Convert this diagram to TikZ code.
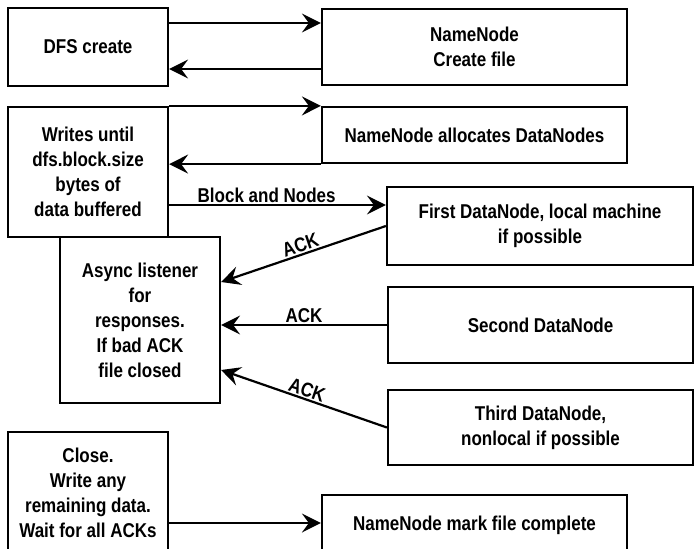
\documentclass[tikz,border=0pt]{standalone}
\usepackage{fontspec}
\setmainfont{Liberation Sans}[FakeStretch=0.85]
\usetikzlibrary{arrows.meta}

\begin{document}
\begin{tikzpicture}[x=1pt,y=-1pt,line width=2.2pt,
    txt/.style={font=\bfseries\fontsize{20}{25}\selectfont},
    procbox/.style={draw,txt,align=center,inner sep=2pt},
    lbl/.style={txt,inner sep=1.5pt,text depth=0pt},
    flow/.style={-{Stealth[length=19pt,width=19pt,inset=7pt]}}]
  \clip (0,0) rectangle (695,548);

  % left column
  \node[procbox,minimum width=160pt,minimum height=78pt](dfs) at (88,47) {DFS create};
  \node[procbox,minimum width=160pt,minimum height=130pt](writes) at (88,172) {Writes until\\dfs.block.size\\bytes of\\data buffered};
  \node[procbox,minimum width=160pt,minimum height=166pt](async) at (140,320) {Async listener\\for\\responses.\\If bad ACK\\file closed};
  \node[procbox,minimum width=160pt,minimum height=122pt](close) at (88,493) {Close.\\Write any\\remaining data.\\Wait for all ACKs};

  % right column
  \node[procbox,minimum width=305pt,minimum height=76pt](nncreate) at (474.5,47) {NameNode\\Create file};
  \node[procbox,minimum width=305pt,minimum height=56pt](nnalloc) at (474.5,135) {NameNode allocates DataNodes};
  \node[procbox,minimum width=306pt,minimum height=78pt](first) at (540,226) {First DataNode, local machine\\if possible};
  \node[procbox,minimum width=305pt,minimum height=76pt](second) at (540.5,325) {Second DataNode};
  \node[procbox,minimum width=305pt,minimum height=75pt](third) at (540.5,427.5) {Third DataNode,\\nonlocal if possible};
  \node[procbox,minimum width=305pt,minimum height=60pt](complete) at (474.5,525) {NameNode mark file complete};

  \coordinate (c1) at ([yshift=24pt]dfs.east);
  \coordinate (c2) at ([yshift=-22pt]nncreate.west);
  \draw[flow] (c1) -- (c1 -| nncreate.west);
  \draw[flow] (c2) -- (c2 -| dfs.east);

  \draw[flow] (writes.north east) -- (nnalloc.north west);
  \draw[flow] (nnalloc.south west) -- (nnalloc.south west -| writes.east);

  \coordinate (bn) at ([yshift=-33pt]writes.east);
  \draw[flow] (bn) -- node[lbl,above,pos=0.45] {Block and Nodes} (bn -| first.west);

  %% acks back to the listener
  \draw[flow] (first.west) -- node[lbl,sloped,above] {ACK} ([yshift=38pt]async.east);
  \draw[flow] (second.west) -- node[lbl,above] {ACK} (second.west -| async.east);
  \draw[flow] (third.west) -- node[lbl,sloped,above] {ACK} ([yshift=-50pt]async.east);

  \coordinate (c3) at ([yshift=-30pt]close.east);
  \draw[flow] (c3) -- (c3 -| complete.west);
\end{tikzpicture}
\end{document}
